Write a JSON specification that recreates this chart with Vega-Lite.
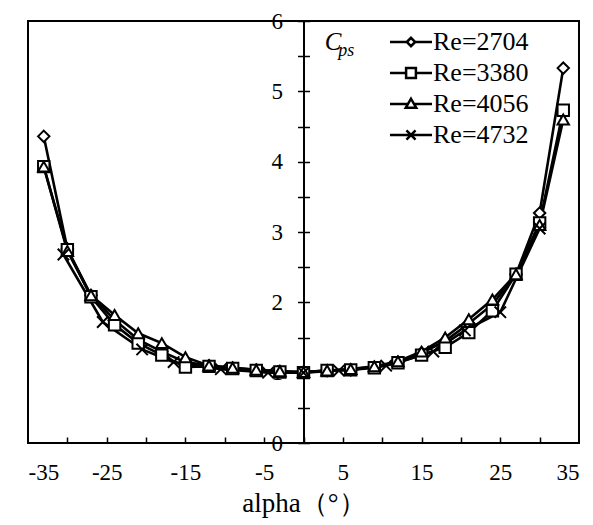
{
  "$schema": "https://vega.github.io/schema/vega-lite/v6.json",
  "width": 551,
  "height": 422,
  "autosize": "none",
  "padding": {"left": 28, "top": 21, "right": 14, "bottom": 82},
  "background": "white",
  "config": {
    "view": {"stroke": "black", "strokeWidth": 2},
    "font": "Liberation Serif",
    "legend": {
      "title": null, "orient": "none", "legendX": 370, "padding": 0,
      "symbolSize": 196, "symbolStrokeWidth": 2.5, "symbolFillColor": "white",
      "symbolStrokeColor": "black", "symbolOpacity": 1,
      "labelFont": "Liberation Serif", "labelFontSize": 26, "labelColor": "black",
      "labelOffset": 9
    }
  },
  "data": {
    "values": [
      {"alpha": -33, "cps": 4.36, "series": "Re=2704"},
      {"alpha": -30, "cps": 2.76, "series": "Re=2704"},
      {"alpha": -27, "cps": 2.1, "series": "Re=2704"},
      {"alpha": -24, "cps": 1.75, "series": "Re=2704"},
      {"alpha": -21, "cps": 1.47, "series": "Re=2704"},
      {"alpha": -18, "cps": 1.3, "series": "Re=2704"},
      {"alpha": -15, "cps": 1.15, "series": "Re=2704"},
      {"alpha": -12, "cps": 1.1, "series": "Re=2704"},
      {"alpha": -9, "cps": 1.07, "series": "Re=2704"},
      {"alpha": -6, "cps": 1.04, "series": "Re=2704"},
      {"alpha": -3, "cps": 1.02, "series": "Re=2704"},
      {"alpha": 0, "cps": 1.01, "series": "Re=2704"},
      {"alpha": 3, "cps": 1.03, "series": "Re=2704"},
      {"alpha": 6, "cps": 1.04, "series": "Re=2704"},
      {"alpha": 9, "cps": 1.08, "series": "Re=2704"},
      {"alpha": 12, "cps": 1.15, "series": "Re=2704"},
      {"alpha": 15, "cps": 1.28, "series": "Re=2704"},
      {"alpha": 18, "cps": 1.45, "series": "Re=2704"},
      {"alpha": 21, "cps": 1.7, "series": "Re=2704"},
      {"alpha": 24, "cps": 1.97, "series": "Re=2704"},
      {"alpha": 27, "cps": 2.4, "series": "Re=2704"},
      {"alpha": 30, "cps": 3.27, "series": "Re=2704"},
      {"alpha": 33, "cps": 5.33, "series": "Re=2704"},

      {"alpha": -33, "cps": 3.93, "series": "Re=3380"},
      {"alpha": -30, "cps": 2.75, "series": "Re=3380"},
      {"alpha": -27, "cps": 2.08, "series": "Re=3380"},
      {"alpha": -24, "cps": 1.68, "series": "Re=3380"},
      {"alpha": -21, "cps": 1.42, "series": "Re=3380"},
      {"alpha": -18, "cps": 1.25, "series": "Re=3380"},
      {"alpha": -15, "cps": 1.08, "series": "Re=3380"},
      {"alpha": -12, "cps": 1.09, "series": "Re=3380"},
      {"alpha": -9, "cps": 1.06, "series": "Re=3380"},
      {"alpha": -6, "cps": 1.03, "series": "Re=3380"},
      {"alpha": -3, "cps": 1.01, "series": "Re=3380"},
      {"alpha": 0, "cps": 1.0, "series": "Re=3380"},
      {"alpha": 3, "cps": 1.03, "series": "Re=3380"},
      {"alpha": 6, "cps": 1.04, "series": "Re=3380"},
      {"alpha": 9, "cps": 1.07, "series": "Re=3380"},
      {"alpha": 12, "cps": 1.14, "series": "Re=3380"},
      {"alpha": 15, "cps": 1.25, "series": "Re=3380"},
      {"alpha": 18, "cps": 1.36, "series": "Re=3380"},
      {"alpha": 21, "cps": 1.57, "series": "Re=3380"},
      {"alpha": 24, "cps": 1.88, "series": "Re=3380"},
      {"alpha": 27, "cps": 2.4, "series": "Re=3380"},
      {"alpha": 30, "cps": 3.13, "series": "Re=3380"},
      {"alpha": 33, "cps": 4.73, "series": "Re=3380"},

      {"alpha": -33, "cps": 3.93, "series": "Re=4056"},
      {"alpha": -30, "cps": 2.73, "series": "Re=4056"},
      {"alpha": -27, "cps": 2.1, "series": "Re=4056"},
      {"alpha": -24, "cps": 1.82, "series": "Re=4056"},
      {"alpha": -21, "cps": 1.56, "series": "Re=4056"},
      {"alpha": -18, "cps": 1.42, "series": "Re=4056"},
      {"alpha": -15, "cps": 1.22, "series": "Re=4056"},
      {"alpha": -12, "cps": 1.1, "series": "Re=4056"},
      {"alpha": -9, "cps": 1.07, "series": "Re=4056"},
      {"alpha": -6, "cps": 1.04, "series": "Re=4056"},
      {"alpha": -3, "cps": 1.02, "series": "Re=4056"},
      {"alpha": 0, "cps": 1.01, "series": "Re=4056"},
      {"alpha": 3, "cps": 1.03, "series": "Re=4056"},
      {"alpha": 6, "cps": 1.05, "series": "Re=4056"},
      {"alpha": 9, "cps": 1.09, "series": "Re=4056"},
      {"alpha": 12, "cps": 1.16, "series": "Re=4056"},
      {"alpha": 15, "cps": 1.3, "series": "Re=4056"},
      {"alpha": 18, "cps": 1.5, "series": "Re=4056"},
      {"alpha": 21, "cps": 1.76, "series": "Re=4056"},
      {"alpha": 24, "cps": 2.04, "series": "Re=4056"},
      {"alpha": 27, "cps": 2.4, "series": "Re=4056"},
      {"alpha": 30, "cps": 3.1, "series": "Re=4056"},
      {"alpha": 33, "cps": 4.6, "series": "Re=4056"},

      {"alpha": -30.5, "cps": 2.68, "series": "Re=4732"},
      {"alpha": -25.5, "cps": 1.72, "series": "Re=4732"},
      {"alpha": -20.5, "cps": 1.33, "series": "Re=4732"},
      {"alpha": -16.5, "cps": 1.15, "series": "Re=4732"},
      {"alpha": -10.5, "cps": 1.05, "series": "Re=4732"},
      {"alpha": -4.5, "cps": 1.0, "series": "Re=4732"},
      {"alpha": 0, "cps": 1.0, "series": "Re=4732"},
      {"alpha": 4.5, "cps": 1.03, "series": "Re=4732"},
      {"alpha": 10.5, "cps": 1.1, "series": "Re=4732"},
      {"alpha": 16.5, "cps": 1.3, "series": "Re=4732"},
      {"alpha": 20.5, "cps": 1.6, "series": "Re=4732"},
      {"alpha": 25, "cps": 1.86, "series": "Re=4732"},
      {"alpha": 30, "cps": 3.05, "series": "Re=4732"}
    ]
  },
  "layer": [
    {
      "mark": {"type": "line", "color": "black", "strokeWidth": 2.6},
      "encoding": {
        "x": {
          "field": "alpha", "type": "quantitative",
          "scale": {"domain": [-35, 35], "nice": false, "zero": false},
          "axis": {
            "orient": "bottom",
            "values": [-35, -25, -15, -5, 5, 15, 25, 35],
            "labelExpr": "'' + datum.value",
            "ticks": false,
            "domain": false, "grid": false,
            "labelFontSize": 23, "labelColor": "black", "labelPadding": 18,
            "labelFont": "Liberation Serif",
            "title": "alpha（°）", "titleFontSize": 27, "titleFontWeight": "normal",
            "titleColor": "black", "titlePadding": 6, "titleFont": "Liberation Serif"
          }
        },
        "y": {
          "field": "cps", "type": "quantitative",
          "scale": {"domain": [0, 6], "nice": false},
          "axis": {
            "orient": "left", "offset": -275.5,
            "values": [0, 0.5, 1, 1.5, 2, 2.5, 3, 3.5, 4, 4.5, 5, 5.5, 6],
            "labelExpr": "datum.value % 1 == 0 ? '' + datum.value : ''",
            "tickSize": 6, "tickColor": "black", "tickWidth": 1.5,
            "domainColor": "black", "domainWidth": 2, "grid": false,
            "labelFontSize": 23, "labelColor": "black", "labelPadding": 15,
            "labelFont": "Liberation Serif", "title": null
          }
        },
        "detail": {"field": "series"}
      }
    },
    {
      "mark": {"type": "point", "fill": "white", "stroke": "black", "strokeWidth": 2, "size": 130, "opacity": 1},
      "encoding": {
        "x": {
          "field": "alpha", "type": "quantitative",
          "axis": {
            "orient": "top", "offset": -422,
            "values": [-30, -25, -20, -15, -10, -5, 0, 5, 10, 15, 20, 25, 30],
            "labels": false, "domain": false, "grid": false,
            "tickSize": 6, "tickColor": "black", "tickWidth": 1.5, "title": null
          }
        },
        "y": {
          "field": "cps", "type": "quantitative",
          "axis": {
            "orient": "right", "offset": -275.5,
            "values": [0, 0.5, 1, 1.5, 2, 2.5, 3, 3.5, 4, 4.5, 5, 5.5, 6],
            "labels": false, "domain": false, "grid": false,
            "tickSize": 6, "tickColor": "black", "tickWidth": 1.5, "title": null
          }
        },
        "shape": {
          "field": "series", "type": "nominal",
          "scale": {
            "domain": ["Re=2704", "Re=3380", "Re=4056", "Re=4732"],
            "range": ["diamond", "square", "triangle-up", "M-1,-1L1,1M-1,1L1,-1"]
          },
          "legend": null
        }
      }
    },
    {
      "transform": [{"filter": "datum.alpha > 100"}],
      "mark": {"type": "point", "fill": "white", "stroke": "black", "strokeWidth": 2.5, "opacity": 1},
      "encoding": {
        "x": {"field": "alpha", "type": "quantitative", "axis": null},
        "y": {"field": "cps", "type": "quantitative", "axis": null},
        "color": {
          "field": "series", "type": "nominal",
          "scale": {"domain": ["Re=2704"], "range": ["black"]},
          "legend": {"legendY": 8, "symbolType": "M-3,0L-0.6,0M-0.6,0L0,-0.6L0.6,0L0,0.6Z M0.6,0L3,0"}
        }
      }
    },
    {
      "transform": [{"filter": "datum.alpha > 100"}],
      "mark": {"type": "point", "fill": "white", "stroke": "black", "strokeWidth": 2.5, "opacity": 1},
      "encoding": {
        "x": {"field": "alpha", "type": "quantitative", "axis": null},
        "y": {"field": "cps", "type": "quantitative", "axis": null},
        "fill": {
          "field": "series", "type": "nominal",
          "scale": {"domain": ["Re=3380"], "range": ["white"]},
          "legend": {"legendY": 39, "symbolType": "M-3,0L-0.7,0M-0.7,-0.7L0.7,-0.7L0.7,0.7L-0.7,0.7Z M0.7,0L3,0"}
        }
      }
    },
    {
      "transform": [{"filter": "datum.alpha > 100"}],
      "mark": {"type": "point", "fill": "white", "stroke": "black", "strokeWidth": 2.5, "opacity": 1},
      "encoding": {
        "x": {"field": "alpha", "type": "quantitative", "axis": null},
        "y": {"field": "cps", "type": "quantitative", "axis": null},
        "stroke": {
          "field": "series", "type": "nominal",
          "scale": {"domain": ["Re=4056"], "range": ["black"]},
          "legend": {"legendY": 70, "symbolType": "M-3,0L-0.46,0M0,-0.75L0.75,0.55L-0.75,0.55Z M0.46,0L3,0"}
        }
      }
    },
    {
      "transform": [{"filter": "datum.alpha > 100"}],
      "mark": {"type": "point", "fill": "white", "stroke": "black", "strokeWidth": 2.5, "opacity": 1},
      "encoding": {
        "x": {"field": "alpha", "type": "quantitative", "axis": null},
        "y": {"field": "cps", "type": "quantitative", "axis": null},
        "color": {
          "field": "series", "type": "nominal",
          "scale": {"domain": ["Re=4732"], "range": ["black"]},
          "legend": {"legendY": 101, "symbolType": "M-3,0L3,0M-0.65,-0.65L0.65,0.65M-0.65,0.65L0.65,-0.65"}
        }
      }
    },
    {
      "data": {"values": [{"t": "C", "px": 2.7, "py": 5.7}]},
      "mark": {"type": "text", "font": "Liberation Serif", "fontStyle": "italic", "fontSize": 25, "align": "left", "baseline": "middle", "color": "black"},
      "encoding": {
        "x": {"field": "px", "type": "quantitative", "axis": null},
        "y": {"field": "py", "type": "quantitative", "axis": null},
        "text": {"field": "t"}
      }
    },
    {
      "data": {"values": [{"t": "ps", "px": 4.4, "py": 5.57}]},
      "mark": {"type": "text", "font": "Liberation Serif", "fontStyle": "italic", "fontSize": 18, "align": "left", "baseline": "middle", "color": "black"},
      "encoding": {
        "x": {"field": "px", "type": "quantitative", "axis": null},
        "y": {"field": "py", "type": "quantitative", "axis": null},
        "text": {"field": "t"}
      }
    }
  ],
  "resolve": {"scale": {"shape": "independent", "color": "independent"}, "axis": {"x": "independent", "y": "independent"}}
}
